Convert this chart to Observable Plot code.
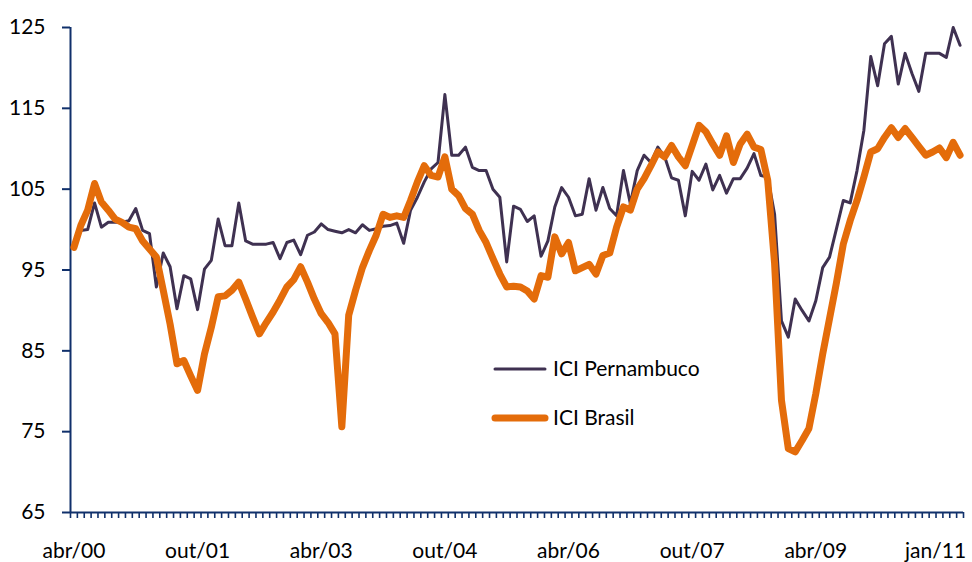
<!DOCTYPE html>
<html>
<head>
<meta charset="utf-8">
<script src="https://cdn.jsdelivr.net/npm/d3@7"></script>
<script src="https://cdn.jsdelivr.net/npm/@observablehq/plot@0.6"></script>
<style>
  html, body { margin: 0; padding: 0; background: #fff; }
  #wrap { position: relative; width: 972px; height: 562px; font-family: Lato, "Open Sans", sans-serif; }
  #legend { position: absolute; left: 0; top: 0; pointer-events: none; }
</style>
</head>
<body>
<div id="wrap"></div>
<script>
// Series names and colours
const seriesNames = ["ICI Pernambuco", "ICI Brasil"];
const seriesColors = ["#3F3151", "#E46C0A"];

// Monthly values, abr/2000 .. jan/2011 (130 months)
const pernambuco = [
  98.0, 99.9, 100.0, 103.3, 100.3, 100.9, 100.9, 100.9, 101.1, 102.6,
  99.9, 99.5, 92.9, 97.1, 95.4, 90.2, 94.3, 93.9, 90.1, 95.1,
  96.2, 101.3, 98.0, 98.0, 103.3, 98.6, 98.2, 98.2, 98.2, 98.4,
  96.4, 98.4, 98.7, 96.9, 99.3, 99.7, 100.7, 100.0, 99.8, 99.6,
  100.0, 99.6, 100.6, 99.9, 100.1, 100.4, 100.5, 100.8, 98.3, 102.4,
  104.0, 105.9, 107.5, 108.3, 116.7, 109.2, 109.2, 110.2, 107.7, 107.3,
  107.3, 105.0, 104.0, 96.0, 102.9, 102.5, 101.0, 101.7, 96.7, 98.6,
  102.8, 105.2, 104.0, 101.7, 101.9, 106.3, 102.4, 105.2, 102.6, 101.7,
  107.3, 103.2, 107.3, 109.2, 108.3, 110.2, 109.0, 106.4, 106.1, 101.7,
  107.2, 106.1, 108.1, 104.9, 106.7, 104.5, 106.3, 106.3, 107.6, 109.4,
  106.7, 106.5, 101.9, 88.7, 86.7, 91.4, 90.0, 88.7, 91.2, 95.3,
  96.6, 100.1, 103.6, 103.3, 107.3, 112.3, 121.4, 117.8, 123.0, 123.9,
  118.0, 121.8, 119.3, 117.1, 121.8, 121.8, 121.8, 121.3, 125.0, 122.8
];
const brasil = [
  97.8, 100.5, 102.4, 105.7, 103.4, 102.4, 101.3, 100.9, 100.3, 100.1,
  98.6, 97.6, 96.6, 92.5, 88.3, 83.4, 83.8, 81.9, 80.1, 84.6,
  87.9, 91.7, 91.8, 92.5, 93.5, 91.4, 89.2, 87.1, 88.5, 89.8,
  91.3, 92.9, 93.8, 95.4, 93.5, 91.4, 89.6, 88.5, 87.1, 75.6,
  89.4, 92.5, 95.3, 97.4, 99.3, 101.9, 101.5, 101.7, 101.5, 103.6,
  105.9, 107.9, 106.7, 106.5, 109.0, 105.0, 104.2, 102.6, 101.9, 99.9,
  98.4, 96.4, 94.5, 92.9, 93.0, 92.9, 92.4, 91.4, 94.3, 94.1,
  99.1, 97.0, 98.4, 94.9, 95.3, 95.7, 94.5, 96.8, 97.1, 100.3,
  102.8, 102.4, 105.0, 106.3, 107.9, 109.6, 109.0, 110.4, 109.0, 107.9,
  110.4, 112.9, 112.1, 110.6, 109.2, 111.6, 108.3, 110.6, 111.8, 110.2,
  109.9, 106.1, 95.8, 78.9, 72.9, 72.5, 73.9, 75.4, 79.7, 84.6,
  89.0, 93.4, 98.2, 101.1, 103.6, 106.5, 109.6, 110.0, 111.4, 112.6,
  111.4, 112.5, 111.4, 110.3, 109.2, 109.6, 110.1, 108.9, 110.8, 109.2
];

// Axis tick labels
const xTickLabels = ["abr/00", "out/01", "abr/03", "out/04", "abr/06", "out/07", "abr/09", "jan/11"];
const xTickIndex  = [0, 18, 36, 54, 72, 90, 108, 129];
const yTicks = [65, 75, 85, 95, 105, 115, 125];

const axisColor = "#10306B";
const n = pernambuco.length;

const rows = [];
for (let i = 0; i < n; i++) {
  rows.push({i, value: pernambuco[i], series: seriesNames[0]});
}
for (let i = 0; i < n; i++) {
  rows.push({i, value: brasil[i], series: seriesNames[1]});
}
const perRows = rows.filter(d => d.series === seriesNames[0]);
const braRows = rows.filter(d => d.series === seriesNames[1]);

const monthTicks = d3.range(n + 1).map(k => k - 0.5);
const labelRows = xTickIndex.map((i, k) => ({i, label: xTickLabels[k]}));
const lastLabel = labelRows.slice(-1);
const otherLabels = labelRows.slice(0, -1);

const chart = Plot.plot({
  width: 972,
  height: 562,
  marginLeft: 70,
  marginRight: 9,
  marginTop: 27,
  marginBottom: 50,
  style: {fontFamily: "Lato, 'Open Sans', sans-serif", fontSize: "21px", color: "#000", background: "#fff", overflow: "visible"},
  x: {domain: [-0.5, n - 0.5], axis: null},
  y: {domain: [65, 125], axis: null},
  marks: [
    Plot.axisY(yTicks, {label: null, tickSize: 8, tickPadding: 17, stroke: axisColor, strokeWidth: 2, fill: "#000", fontSize: 21, tickFormat: d => String(d)}),
    Plot.axisX(monthTicks, {label: null, tickSize: 6, stroke: axisColor, strokeWidth: 1.6, tickFormat: () => ""}),
    Plot.ruleX([-0.5], {stroke: axisColor, strokeWidth: 2}),
    Plot.ruleY([65], {stroke: axisColor, strokeWidth: 2}),
    Plot.text(otherLabels, {x: "i", y: () => 65, text: "label", dy: 39, fill: "#000", fontSize: 21}),
    Plot.text(lastLabel, {x: "i", y: () => 65, text: "label", dy: 39, dx: 6, textAnchor: "end", fill: "#000", fontSize: 21}),
    Plot.line(perRows, {x: "i", y: "value", stroke: seriesColors[0], strokeWidth: 3, strokeLinejoin: "round", strokeLinecap: "round"}),
    Plot.line(braRows, {x: "i", y: "value", stroke: seriesColors[1], strokeWidth: 7, strokeLinejoin: "round", strokeLinecap: "round"})
  ]
});

const wrap = document.getElementById("wrap");
wrap.appendChild(chart);

// Legend overlay (inside plot area, as in the reference)
const ns = "http://www.w3.org/2000/svg";
const leg = document.createElementNS(ns, "svg");
leg.setAttribute("id", "legend");
leg.setAttribute("width", 972);
leg.setAttribute("height", 562);
const legendItems = [
  {name: seriesNames[0], color: seriesColors[0], w: 3, y: 369},
  {name: seriesNames[1], color: seriesColors[1], w: 7, y: 418}
];
legendItems.forEach(it => {
  const l = document.createElementNS(ns, "line");
  l.setAttribute("x1", 495); l.setAttribute("x2", 545);
  l.setAttribute("y1", it.y); l.setAttribute("y2", it.y);
  l.setAttribute("stroke", it.color);
  l.setAttribute("stroke-width", it.w);
  l.setAttribute("stroke-linecap", "round");
  leg.appendChild(l);
  const t = document.createElementNS(ns, "text");
  t.setAttribute("x", 553); t.setAttribute("y", it.y);
  t.setAttribute("dy", "0.35em");
  t.setAttribute("font-family", "Lato, 'Open Sans', sans-serif");
  t.setAttribute("font-size", 21);
  t.setAttribute("fill", "#000");
  t.textContent = it.name;
  leg.appendChild(t);
});
wrap.appendChild(leg);
</script>
</body>
</html>
